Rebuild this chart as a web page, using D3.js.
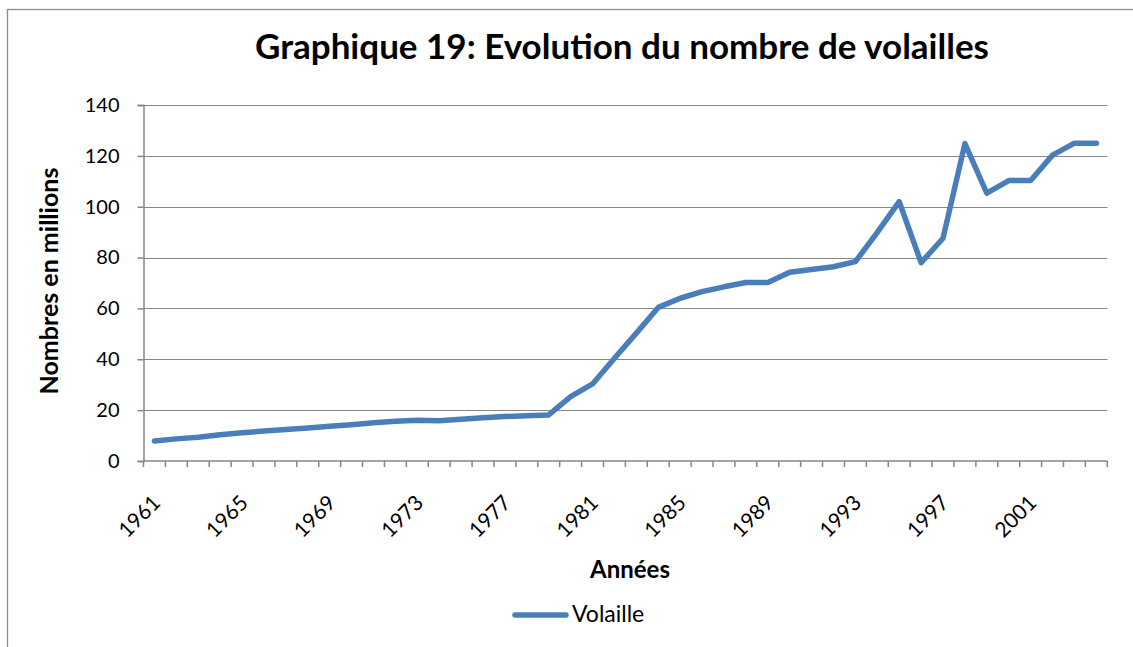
<!DOCTYPE html>
<html>
<head>
<meta charset="utf-8">
<script src="https://cdn.jsdelivr.net/npm/d3@7/dist/d3.min.js"></script>
<style>
  body { margin: 0; background: #fff; }
  text { font-family: Lato, "Open Sans", sans-serif; fill: #000; }
</style>
</head>
<body>
<div id="chart"></div>
<script>
// données (millions de têtes)
var years = [1961, 1962, 1963, 1964, 1965, 1966, 1967, 1968, 1969, 1970,
             1971, 1972, 1973, 1974, 1975, 1976, 1977, 1978, 1979, 1980,
             1981, 1982, 1983, 1984, 1985, 1986, 1987, 1988, 1989, 1990,
             1991, 1992, 1993, 1994, 1995, 1996, 1997, 1998, 1999, 2000,
             2001, 2002, 2003, 2004]
var volaille = [7.9, 8.7, 9.3, 10.3, 11.1, 11.8, 12.4, 13, 13.7, 14.3,
                15, 15.6, 16, 15.8, 16.4, 17, 17.5, 17.8, 18.1, 25.3,
                30.3, 40.4, 50.3, 60.4, 64, 66.6, 68.5, 70.2, 70.2, 74.2,
                75.3, 76.4, 78.4, 89.9, 102, 78, 87.6, 124.8, 105.3, 110.3,
                110.3, 120.3, 125, 125]
var yTicks = [0, 20, 40, 60, 80, 100, 120, 140]
var labelYears = [1961, 1965, 1969, 1973, 1977, 1981, 1985, 1989, 1993, 1997, 2001]

var W = 1133, H = 647
var margin = {top: 105, left: 143.5, right: 25.7, bottom: 186},
    width = W - margin.left - margin.right,
    height = H - margin.top - margin.bottom;

var root = d3.select("#chart")
    .append("svg")
    .attr("width", W)
    .attr("height", H)

// cadre extérieur
root.append("rect")
    .attr("x", 7.5)
    .attr("y", 9.5)
    .attr("width", W + 20)
    .attr("height", H + 20)
    .attr("fill", "none")
    .attr("stroke", "#8c8c8c")
    .attr("stroke-width", 1.3)

root.append("text")
    .attr("x", 622)
    .attr("y", 59)
    .attr("text-anchor", "middle")
    .style("font-weight", "bold")
    .style("font-size", "35px")
    .text("Graphique 19: Evolution du nombre de volailles")

var svg = root.append("g")
    .attr("transform", "translate(" + margin.left + "," + margin.top + ")");

var x = d3.scaleBand()
    .domain(years)
    .range([0, width])

var y = d3.scaleLinear()
    .domain([0, 140])
    .range([height, 0])

// grille horizontale
svg.selectAll(".grid")
    .data(yTicks.filter(d => d > 0))
    .enter().append("line")
    .attr("class", "grid")
    .attr("x1", 0)
    .attr("x2", width)
    .attr("y1", d => Math.round(y(d)) + 0.5)
    .attr("y2", d => Math.round(y(d)) + 0.5)
    .attr("stroke", "#868686")
    .attr("stroke-width", 1.2)

// axe vertical
var yAxis = d3.axisLeft(y)
    .tickValues(yTicks)
    .tickSize(6)
    .tickPadding(18)
    .tickFormat(d3.format("d"))

var gy = svg.append("g").call(yAxis)
gy.select(".domain").attr("stroke", "#868686").attr("stroke-width", 1.5)
gy.selectAll(".tick line").attr("stroke", "#868686").attr("stroke-width", 1.5)
gy.selectAll("text")
    .style("font-size", "20px")
    .style("font-family", "Lato, sans-serif")
    .attr("fill", "#000")

// axe horizontal
svg.append("line")
    .attr("x1", 0)
    .attr("x2", width)
    .attr("y1", height)
    .attr("y2", height)
    .attr("stroke", "#868686")
    .attr("stroke-width", 1.5)

var edges = years.map(d => x(d)).concat([width])
svg.selectAll(".xtick")
    .data(edges)
    .enter().append("line")
    .attr("class", "xtick")
    .attr("x1", d => d)
    .attr("x2", d => d)
    .attr("y1", height)
    .attr("y2", height + 6)
    .attr("stroke", "#868686")
    .attr("stroke-width", 1.5)

svg.selectAll(".xlabel")
    .data(labelYears)
    .enter().append("text")
    .attr("class", "xlabel")
    .attr("transform", d => "translate(" + (x(d) + x.bandwidth() / 2 + 2) + "," + (height + 38) + ") rotate(-45)")
    .attr("text-anchor", "end")
    .attr("dy", "0.35em")
    .style("font-size", "21px")
    .text(d => d)

// titres des axes
root.append("text")
    .attr("x", 630)
    .attr("y", 578)
    .attr("text-anchor", "middle")
    .style("font-weight", "bold")
    .style("font-size", "24px")
    .text("Années")

root.append("text")
    .attr("transform", "translate(58,281) rotate(-90)")
    .attr("text-anchor", "middle")
    .style("font-weight", "bold")
    .style("font-size", "25px")
    .text("Nombres en millions")

// courbe
var line = d3.line()
    .x((d, i) => x(years[i]) + x.bandwidth() / 2)
    .y(d => y(d))

svg.append("path")
    .datum(volaille)
    .attr("d", line)
    .attr("fill", "none")
    .attr("stroke", "#4a7ebb")
    .attr("stroke-width", 5.5)
    .attr("stroke-linejoin", "round")
    .attr("stroke-linecap", "round")

// légende
root.append("line")
    .attr("x1", 515)
    .attr("x2", 566)
    .attr("y1", 615)
    .attr("y2", 615)
    .attr("stroke", "#4a7ebb")
    .attr("stroke-width", 5.5)
    .attr("stroke-linecap", "round")

root.append("text")
    .attr("x", 572)
    .attr("y", 622)
    .style("font-size", "23px")
    .text("Volaille")
</script>
</body>
</html>
